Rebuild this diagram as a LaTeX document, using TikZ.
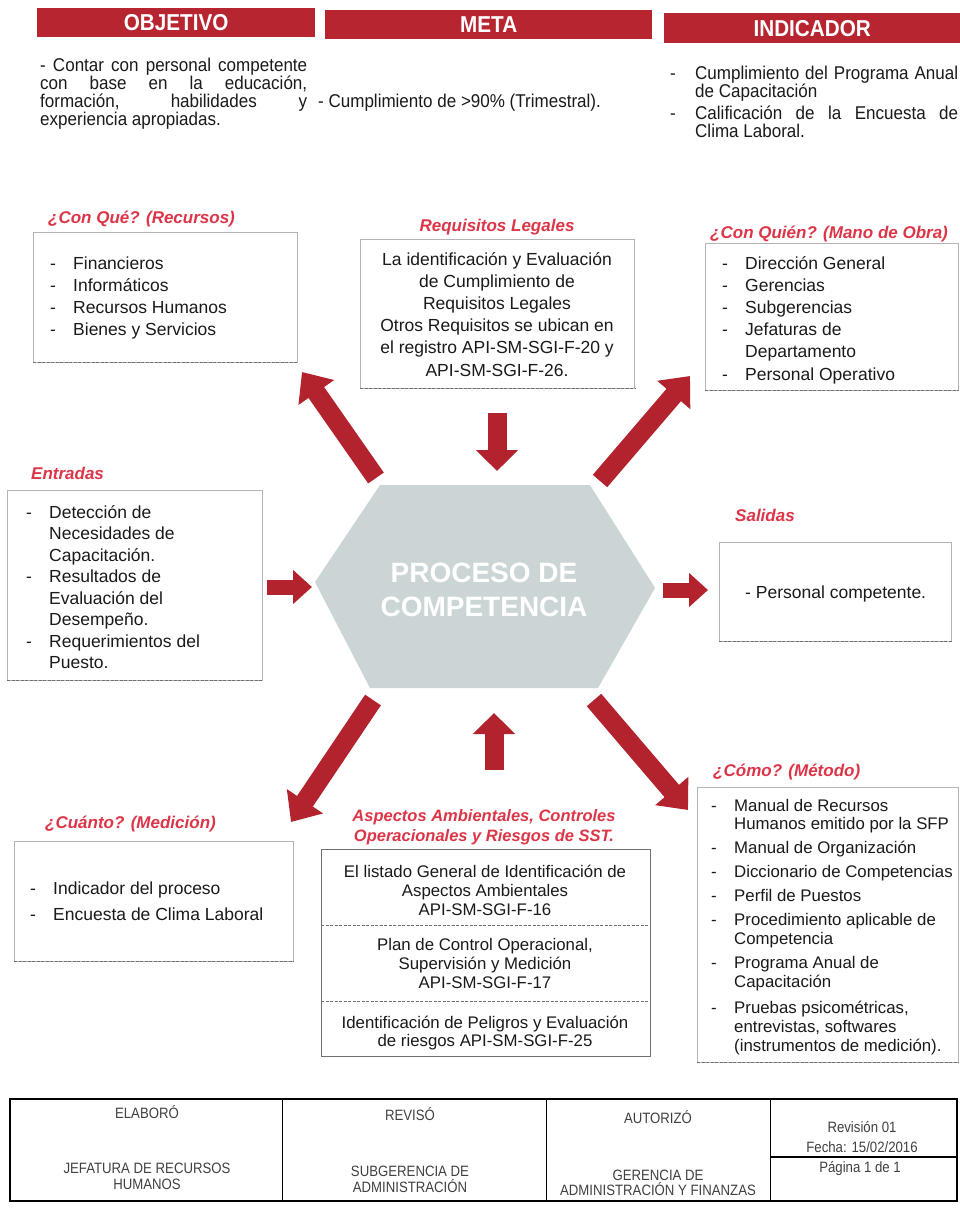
\documentclass[tikz,border=0pt]{standalone}
\usepackage{fontspec}
\setmainfont{Liberation Sans}
\newfontfamily\nfont[FakeStretch=0.92]{Liberation Sans}
\newfontfamily\hbfont[FakeStretch=0.9]{Liberation Sans}
\newfontfamily\ftfont[FakeStretch=0.88]{Liberation Sans}
\usetikzlibrary{arrows.meta,calc}
\definecolor{hdrred}{HTML}{B72530}
\definecolor{lblred}{HTML}{DD3548}
\definecolor{arrowred}{HTML}{B3232E}
\definecolor{hexfill}{HTML}{CBD5D6}
\definecolor{txtcol}{HTML}{1A1A1A}
\definecolor{boxgray}{HTML}{B4B4B4}
\definecolor{boxdark}{HTML}{707070}
\definecolor{ftcol}{HTML}{404040}
\newcommand\bodyfont{\fontsize{17.5}{21}\selectfont}
\newcommand\smallbody{\fontsize{16.8}{19}\selectfont}
\newcommand\hdrtxtfont{\nfont\fontsize{18.5}{18}\selectfont}
\newcommand\hbarfont{\hbfont\bfseries\fontsize{23}{23}\selectfont}
\newcommand\lblfont{\bfseries\itshape\fontsize{17}{20}\selectfont}
\newcommand\ftfnt{\ftfont\fontsize{15}{16}\selectfont}
\newcommand\lbul{\makebox[23pt][l]{-}}
\newcommand\lcont{\makebox[23pt][l]{}}
\begin{document}
\begin{tikzpicture}[x=1pt,y=-1pt,
  linetext/.style={anchor=base west, inner sep=0pt, font=\bodyfont, text=txtcol},
  smalltext/.style={anchor=base west, inner sep=0pt, font=\smallbody, text=txtcol},
  ctrtext/.style={anchor=base, inner sep=0pt, font=\bodyfont, text=txtcol},
  ctrsmall/.style={anchor=base, inner sep=0pt, font=\smallbody, text=txtcol},
  hdrtext/.style={inner sep=0pt, font=\hdrtxtfont, text=txtcol},
  lbl/.style={anchor=base west, inner sep=0pt, font=\lblfont, text=lblred},
  ibox/.style={draw=boxgray, line width=0.8pt, anchor=north west, inner sep=0pt},
  botline/.style={draw=boxdark, line width=0.9pt, dash pattern=on 3pt off 1.5pt},
  divline/.style={draw=boxdark, line width=0.8pt, dash pattern=on 3pt off 1.5pt},
  hbar/.style={fill=hdrred, anchor=north west, inner sep=0pt, text=white, font=\hbarfont},
  diagarrow/.style={draw=arrowred, line width=19pt, -{Triangle[width=42pt,length=25pt]}},
  varrow/.style={draw=arrowred, line width=19pt, -{Triangle[width=41pt,length=21pt]}},
  harrow/.style={draw=arrowred, line width=15pt, -{Triangle[width=33pt,length=19pt]}},
  fttext/.style={anchor=base, inner sep=0pt, font=\ftfnt, text=ftcol}
]
\useasboundingbox (0,0) rectangle (960,1215);
\fill[white] (0,0) rectangle (960,1215);

% ---------- header ----------
\node[hbar, minimum width=278pt, minimum height=29pt] (objbar) at (37,8) {OBJETIVO};
\node[hbar, minimum width=327pt, minimum height=29pt] (metabar) at (325,10) {META};
\node[hbar, minimum width=296pt, minimum height=30pt] (indbar) at (664,13) {INDICADOR};

\node[hdrtext, anchor=north west, text width=267pt, align=justify] (objtxt) at (40,57.5)
  {- Contar con personal competente\linebreak con base en la educación,\linebreak formación, habilidades y\linebreak experiencia apropiadas.};
\node[hdrtext, anchor=base west] (metatxt) at (318,107) {- Cumplimiento de >90\% (Trimestral).};
\node[hdrtext, anchor=base west] (inddash1) at (670,79) {-};
\node[hdrtext, anchor=north west, text width=263pt, align=justify] (indtxt1) at (695,65.5)
  {Cumplimiento del Programa Anual\linebreak de Capacitación};
\node[hdrtext, anchor=base west] (inddash2) at (670,119) {-};
\node[hdrtext, anchor=north west, text width=263pt, align=justify] (indtxt2) at (695,105.5)
  {Calificación de la Encuesta de\linebreak Clima Laboral.};

% ---------- labels ----------
\node[lbl] (lblrec) at (48,223) {¿Con Qué? (Recursos)};
\node[lbl, anchor=base] (lblreq) at (497,231) {Requisitos Legales};
\node[lbl] (lblquien) at (710,238) {¿Con Quién? (Mano de Obra)};
\node[lbl] (lblent) at (31,479) {Entradas};
\node[lbl] (lblsal) at (735,521) {Salidas};
\node[lbl] (lblcuan) at (45,828) {¿Cuánto? (Medición)};
\node[lbl, anchor=base, font=\bfseries\itshape\fontsize{16.5}{20}\selectfont] (lblasp1) at (484,821) {Aspectos Ambientales, Controles};
\node[lbl, anchor=base, font=\bfseries\itshape\fontsize{16.5}{20}\selectfont] (lblasp2) at (484,841) {Operacionales y Riesgos de SST.};
\node[lbl] (lblcomo) at (713,776) {¿Cómo? (Método)};

% ---------- boxes ----------
\node[ibox, minimum width=264pt, minimum height=130pt] (recbox) at (33,232) {};
\node[ibox, minimum width=274pt, minimum height=149pt] (reqbox) at (360,239) {};
\node[ibox, minimum width=253pt, minimum height=147pt] (quienbox) at (705,243) {};
\node[ibox, minimum width=255pt, minimum height=190pt] (entbox) at (7,490) {};
\node[ibox, minimum width=232pt, minimum height=99pt] (salbox) at (719,542) {};
\node[ibox, minimum width=279pt, minimum height=120pt] (cuanbox) at (14,841) {};
\node[ibox, draw=boxdark, minimum width=329pt, minimum height=207pt] (aspbox) at (321,849) {};
\node[ibox, minimum width=261pt, minimum height=275pt] (comobox) at (697,787) {};
\foreach \b in {recbox,reqbox,quienbox,entbox,salbox,cuanbox,aspbox,comobox}
  \draw[botline] (\b.south west) -- (\b.south east);
\draw[divline] ($(aspbox.north west)+(0,76)$) -- ($(aspbox.north east)+(0,76)$);
\draw[divline] ($(aspbox.north west)+(0,152)$) -- ($(aspbox.north east)+(0,152)$);

% ---------- box texts ----------
\foreach \t [count=\i from 0] in {{\lbul Financieros},{\lbul Informáticos},{\lbul Recursos Humanos},{\lbul Bienes y Servicios}}
  \node[linetext] (rec\i) at (50,{269+\i*22.3}) {\t};
\foreach \t [count=\i from 0] in {{La identificación  y Evaluación},{de Cumplimiento de},{Requisitos Legales},{Otros Requisitos se ubican en},{el registro API-SM-SGI-F-20  y},{API-SM-SGI-F-26.}}
  \node[ctrtext] (req\i) at (497,{265+\i*22.2}) {\t};
\foreach \t [count=\i from 0] in {{\lbul Dirección General},{\lbul Gerencias},{\lbul Subgerencias},{\lbul Jefaturas de},{\lcont Departamento},{\lbul Personal Operativo}}
  \node[linetext] (quien\i) at (722,{269+\i*22.2}) {\t};
\foreach \t [count=\i from 0] in {{\lbul Detección de},{\lcont Necesidades de},{\lcont Capacitación.},{\lbul Resultados de},{\lcont Evaluación del},{\lcont Desempeño.},{\lbul Requerimientos del},{\lcont Puesto.}}
  \node[linetext] (ent\i) at (26,{518+\i*21.5}) {\t};
\node[linetext] (sal0) at (745,598) {- Personal competente.};
\foreach \t [count=\i from 0] in {{\lbul Indicador del proceso},{\lbul Encuesta de Clima Laboral}}
  \node[linetext] (cuan\i) at (30,{894+\i*26}) {\t};
\foreach \yy/\t [count=\i] in {877/{El listado General de Identificación de},896/{Aspectos Ambientales},915/{API-SM-SGI-F-16},
  950/{Plan de Control Operacional,},969/{Supervisión y Medición},988/{API-SM-SGI-F-17},
  1028/{Identificación de Peligros y Evaluación},1046/{de riesgos API-SM-SGI-F-25}}
  \node[ctrsmall] (asp\i) at (485,\yy) {\t};
\foreach \yy/\t [count=\i] in {811/{\lbul Manual de Recursos},829/{\lcont Humanos emitido por la SFP},853/{\lbul Manual de Organización},
  877/{\lbul Diccionario de Competencias},901/{\lbul Perfil de Puestos},925/{\lbul Procedimiento aplicable de},944/{\lcont Competencia},
  968/{\lbul Programa Anual de},987/{\lcont Capacitación},1013/{\lbul Pruebas psicométricas,},1032/{\lcont entrevistas, softwares},1051/{\lcont (instrumentos de medición).}}
  \node[smalltext] (como\i) at (711,\yy) {\t};

% ---------- central hexagon ----------
\fill[hexfill] (315,582) -- (380,485) -- (590,485) -- (655,588) -- (598,688) -- (370,688) -- cycle;
\node[font=\bfseries\fontsize{28}{34}\selectfont, text=white, align=center, inner sep=0pt] (proc) at (484,590) {PROCESO DE\\COMPETENCIA};

% ---------- arrows ----------
\coordinate (ulT) at (376,478); \coordinate (ulH) at (302,372);
\coordinate (dnT) at (497,413); \coordinate (dnH) at (497,471);
\coordinate (urT) at (600,481); \coordinate (urH) at (690,376);
\coordinate (ltT) at (267,587); \coordinate (ltH) at (312,587);
\coordinate (rtT) at (663,590); \coordinate (rtH) at (708,590);
\coordinate (llT) at (373,700); \coordinate (llH) at (291,822);
\coordinate (upT) at (494,770); \coordinate (upH) at (494,713);
\coordinate (lrT) at (594,700); \coordinate (lrH) at (688,810);
\draw[diagarrow] (ulT) -- (ulH);
\draw[varrow] (dnT) -- (dnH);
\draw[diagarrow] (urT) -- (urH);
\draw[harrow] (ltT) -- (ltH);
\draw[harrow] (rtT) -- (rtH);
\draw[diagarrow] (llT) -- (llH);
\draw[varrow] (upT) -- (upH);
\draw[diagarrow] (lrT) -- (lrH);

% ---------- footer table ----------
\draw[line width=2.2pt] (10,1099) rectangle (957,1201);
\draw[line width=1pt] (282,1099) -- (282,1201);
\draw[line width=1pt] (546,1099) -- (546,1201);
\draw[line width=1pt] (770,1099) -- (770,1201);
\draw[line width=1.2pt] (770,1157) -- (957,1157);
\node[fttext] (f1) at (147,1118) {ELABORÓ};
\node[fttext] (f2) at (410,1120) {REVISÓ};
\node[fttext] (f3) at (658,1123) {AUTORIZÓ};
\node[fttext] (f4) at (862,1132) {Revisión 01};
\node[fttext] (f5) at (862,1152) {Fecha: 15/02/2016};
\node[fttext] (f6) at (860,1172) {Página 1 de 1};
\node[fttext] (f7) at (147,1173) {JEFATURA DE RECURSOS};
\node[fttext] (f8) at (147,1189) {HUMANOS};
\node[fttext] (f9) at (410,1176) {SUBGERENCIA DE};
\node[fttext] (f10) at (410,1192) {ADMINISTRACIÓN};
\node[fttext] (f11) at (658,1180) {GERENCIA DE};
\node[fttext] (f12) at (658,1195) {ADMINISTRACIÓN Y FINANZAS};
\end{tikzpicture}
\end{document}
